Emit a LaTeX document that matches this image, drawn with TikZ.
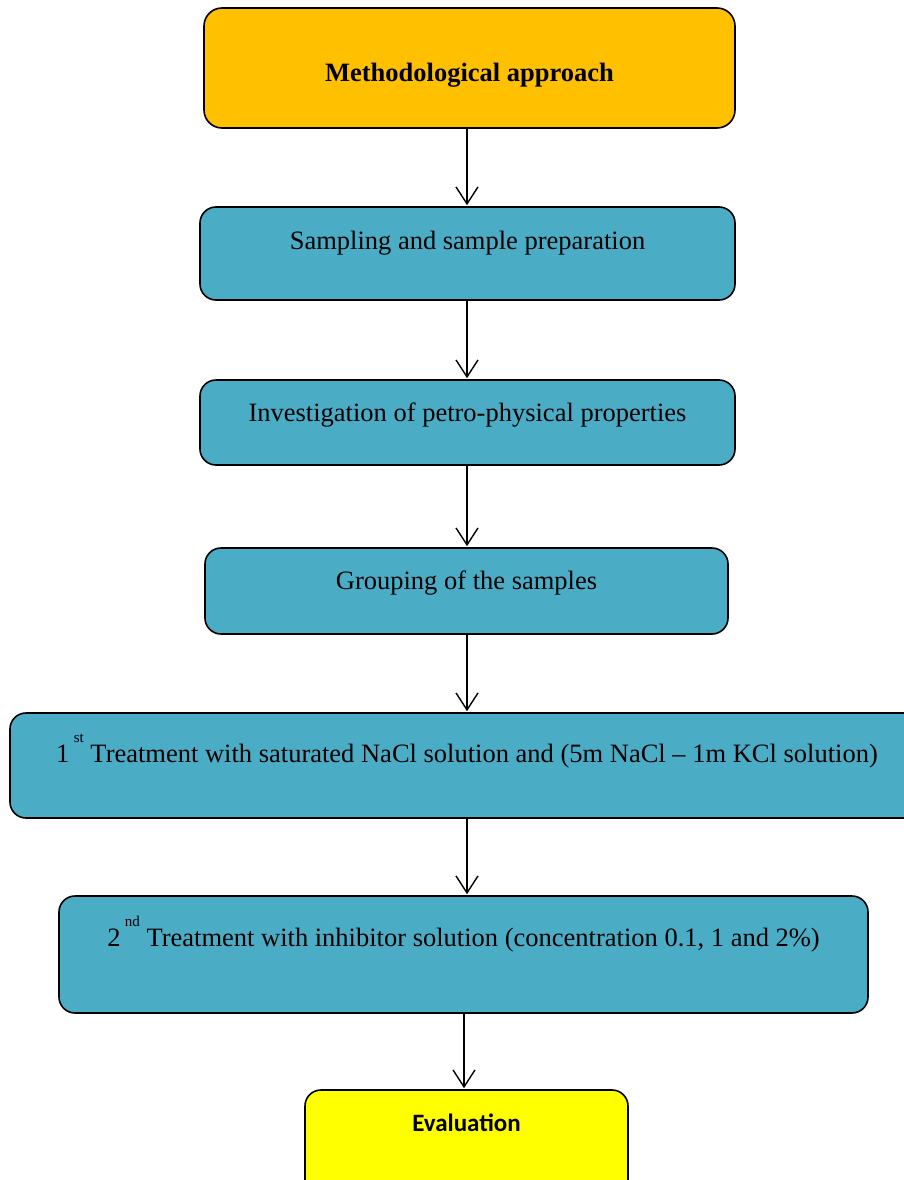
\documentclass[tikz,border=0pt]{standalone}
\usepackage{fontspec}
\setmainfont{Liberation Serif}
\newfontfamily\evalfont{Carlito}
\usetikzlibrary{arrows.meta}
\definecolor{orangebox}{HTML}{FFC000}
\definecolor{tealbox}{HTML}{4BACC6}
\definecolor{yellowbox}{HTML}{FFFF00}
\newcommand{\supx}[1]{\,\raisebox{20pt}{\fontsize{15}{15}\selectfont #1}}
\begin{document}
\begin{tikzpicture}[x=1pt,y=-1pt,
  box/.style={draw=black, line width=1.6pt, rounded corners=16pt, inner sep=0pt},
  label/.style={anchor=base, inner sep=0pt, font=\fontsize{26.5}{30}\selectfont},
  arr/.style={draw=black, line width=1.4pt, -{Straight Barb[length=17pt,width=22pt,line width=1.4pt]}, shorten >=1pt}]
\useasboundingbox (0,0) rectangle (904,1180);
\fill[white] (0,0) rectangle (904,1180);
% boxes
\node[box, fill=orangebox, rounded corners=18pt, minimum width=531pt, minimum height=120pt] (b1) at (469.5,68) {};
\node[box, fill=tealbox, minimum width=535pt, minimum height=93pt] (b2) at (467.5,253.5) {};
\node[box, fill=tealbox, minimum width=535pt, minimum height=85pt] (b3) at (467.5,422.5) {};
\node[box, fill=tealbox, minimum width=523pt, minimum height=86pt] (b4) at (466.5,591) {};
\node[box, fill=tealbox, minimum width=910pt, minimum height=105pt] (b5) at (465,765.5) {};
\node[box, fill=tealbox, minimum width=809pt, minimum height=117pt] (b6) at (463.5,954.5) {};
\node[box, fill=yellowbox, minimum width=323pt, minimum height=110pt] (b7) at (466.5,1145) {};
% texts
\node[label, font=\fontsize{26.5}{30}\selectfont\bfseries] (t1) at (469.5,82) {Methodological approach};
\node[label] (t2) at (467.5,249) {Sampling and sample preparation};
\node[label] (t3) at (467.5,421) {Investigation of petro-physical properties};
\node[label] (t4) at (466.5,589) {Grouping of the samples};
\node[label] (t5) at (467,762) {1\supx{st} Treatment with saturated NaCl solution and (5m NaCl -- 1m KCl solution)};
\node[label] (t6) at (463.5,946) {2\supx{nd} Treatment with inhibitor solution (concentration 0.1, 1 and 2\%)};
\node[label, font=\evalfont\bfseries\fontsize{25}{28}\selectfont] (t7) at (466.5,1131) {Evaluation};
% arrows
\coordinate (ax) at (467,0);
\coordinate (ax6) at (464,0);
\draw[arr] (b1.south -| ax) -- (b2.north -| ax);
\draw[arr] (b2.south -| ax) -- (b3.north -| ax);
\draw[arr] (b3.south -| ax) -- (b4.north -| ax);
\draw[arr] (b4.south -| ax) -- (b5.north -| ax);
\draw[arr] (b5.south -| ax) -- (b6.north -| ax);
\draw[arr] (b6.south -| ax6) -- (b7.north -| ax6);
\end{tikzpicture}
\end{document}
